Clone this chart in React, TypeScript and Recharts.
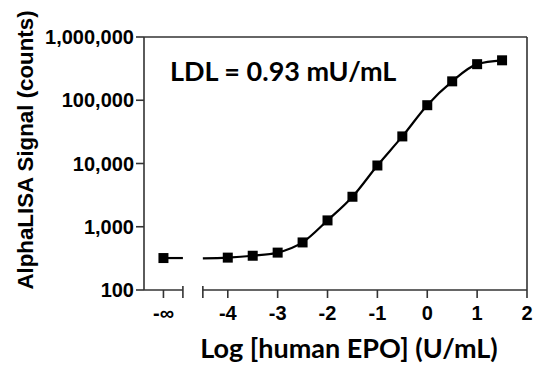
import React from "react";
import {
  ComposedChart,
  Line,
  Scatter,
  XAxis,
  YAxis,
  ReferenceLine,
} from "recharts";

// ---- data ----
const logConc = [-4, -3.5, -3, -2.5, -2, -1.5, -1, -0.5, 0, 0.5, 1, 1.5];
const signal = [325, 348, 390, 565, 1260, 2980, 9300, 26800, 83500, 199000, 372000, 428000];
const blankSignal = 320; // -∞ (no EPO)
const fitStartSignal = 316; // fitted curve value at the start of the right segment
const yTicks = [100, 1000, 10000, 100000, 1000000];
const xTicks = [-4, -3, -2, -1, 0, 1, 2];

// ---- broken-axis layout (axis units) ----
const X_MIN = -5.68;
const X_MAX = 2;
const NEG_INF_X = -5.29;
const BREAK_LEFT = -4.9;
const BREAK_RIGHT = -4.5;

const AXIS_COLOR = "#333";
const TICK_SIZE = 8;
const TICK_MARGIN = 8;

const points = logConc.map((x, i) => ({ x, y: signal[i] }));
const fitCurve = [{ x: BREAK_RIGHT, y: fitStartSignal }, ...points];
const blankPoint = [{ x: NEG_INF_X, y: blankSignal }];
const blankLine = [
  { x: NEG_INF_X, y: blankSignal },
  { x: BREAK_LEFT, y: blankSignal },
];

const fmt = (v: number) => v.toLocaleString("en-US");

const SquareDot = (props: any) => {
  const { cx, cy } = props;
  if (cx == null || cy == null) return null;
  return <rect x={cx - 5} y={cy - 5} width={10} height={10} fill="#000" />;
};

const XTick = (props: any) => {
  const { x, y, payload } = props;
  const v = payload.value;
  const axisY = y - TICK_SIZE - TICK_MARGIN;
  const isBreak = v === BREAK_LEFT || v === BREAK_RIGHT;
  const label = v === NEG_INF_X ? "-∞" : String(v);
  return (
    <g>
      <line
        x1={x}
        x2={x}
        y1={isBreak ? axisY - 4 : axisY}
        y2={axisY + TICK_SIZE}
        stroke={AXIS_COLOR}
        strokeWidth={1.6}
      />
      {!isBreak && (
        <text
          x={x}
          y={y}
          dy="0.71em"
          textAnchor="middle"
          fontFamily="'Liberation Sans', Arial, sans-serif"
          fontWeight={700}
          fontSize={20}
          fill="#000"
        >
          {label}
        </text>
      )}
    </g>
  );
};

export default function App() {
  return (
    <div style={{ position: "absolute", left: 0, top: 0 }}>
      <ComposedChart
        width={533}
        height={370}
        margin={{ top: 37, right: 6, bottom: 0, left: 0 }}
      >
        <XAxis
          type="number"
          dataKey="x"
          domain={[X_MIN, X_MAX]}
          ticks={[NEG_INF_X, BREAK_LEFT, BREAK_RIGHT, ...xTicks]}
          interval={0}
          allowDataOverflow
          axisLine={false}
          tickLine={false}
          tickSize={TICK_SIZE}
          tickMargin={TICK_MARGIN}
          height={80}
          tick={<XTick />}
          label={{
            content: () => (
              <text
                x={349}
                y={358}
                textAnchor="middle"
                fontFamily="Lato, 'Open Sans', sans-serif"
                fontWeight={700}
                fontSize={27}
                fill="#000"
              >
                Log [human EPO] (U/mL)
              </text>
            ),
          }}
        />
        <YAxis
          type="number"
          scale="log"
          domain={[100, 1000000]}
          ticks={yTicks}
          interval={0}
          allowDataOverflow
          width={144}
          tickSize={TICK_SIZE}
          tickMargin={2}
          tickFormatter={fmt}
          axisLine={{ stroke: AXIS_COLOR, strokeWidth: 1.6 }}
          tickLine={{ stroke: AXIS_COLOR, strokeWidth: 1.6 }}
          tick={{
            fill: "#000",
            fontSize: 20,
            fontWeight: 700,
            fontFamily: "'Liberation Sans', Arial, sans-serif",
          }}
          label={{
            content: () => (
              <text
                x={33}
                y={150}
                transform="rotate(-90 33 150)"
                textAnchor="middle"
                fontFamily="'Liberation Sans', Arial, sans-serif"
                fontWeight={700}
                fontSize={22.3}
                fill="#000"
              >
                AlphaLISA Signal (counts)
              </text>
            ),
          }}
        />
        {/* broken x axis line */}
        <ReferenceLine
          segment={[
            { x: X_MIN, y: 100 },
            { x: BREAK_LEFT, y: 100 },
          ]}
          stroke={AXIS_COLOR}
          strokeWidth={1.6}
        />
        <ReferenceLine
          segment={[
            { x: BREAK_RIGHT, y: 100 },
            { x: X_MAX, y: 100 },
          ]}
          stroke={AXIS_COLOR}
          strokeWidth={1.6}
        />
        {/* top and right frame */}
        <ReferenceLine
          y={1000000}
          stroke={AXIS_COLOR}
          strokeWidth={1.6}
          label={{
            content: () => (
              <text
                x={170}
                y={81}
                fontFamily="Lato, 'Open Sans', sans-serif"
                fontWeight={700}
                fontSize={27}
                fill="#000"
              >
                LDL = 0.93 mU/mL
              </text>
            ),
          }}
        />
        <ReferenceLine x={X_MAX} stroke={AXIS_COLOR} strokeWidth={1.6} />

        <Line
          data={blankLine}
          dataKey="y"
          type="linear"
          stroke="#000"
          strokeWidth={2.2}
          dot={false}
          activeDot={false}
          isAnimationActive={false}
        />
        <Line
          data={fitCurve}
          dataKey="y"
          type="monotone"
          stroke="#000"
          strokeWidth={2.2}
          dot={false}
          activeDot={false}
          isAnimationActive={false}
        />
        <Scatter
          data={points}
          dataKey="y"
          shape={<SquareDot />}
          isAnimationActive={false}
        />
        <Scatter
          data={blankPoint}
          dataKey="y"
          shape={<SquareDot />}
          isAnimationActive={false}
        />
      </ComposedChart>
    </div>
  );
}
